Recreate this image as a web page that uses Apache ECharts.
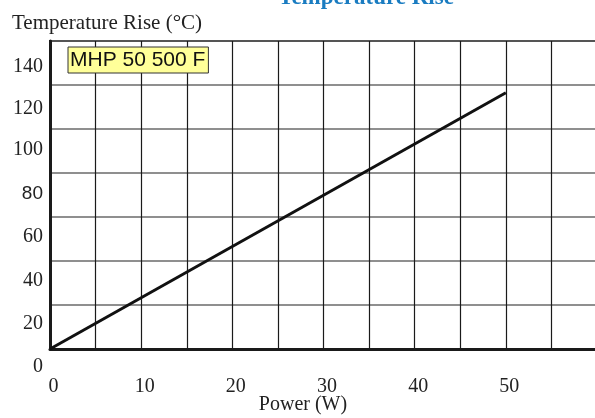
<!DOCTYPE html>
<html>
<head>
<meta charset="utf-8">
<script src="https://cdn.jsdelivr.net/npm/echarts@6/dist/echarts.min.js"></script>
<style>html,body{margin:0;padding:0;background:#fff;}#c{width:595px;height:418px;}</style>
</head>
<body>
<div id="c"></div>
<script>
var chartTitle = 'Temperature Rise';
var yAxisName = 'Temperature Rise (°C)';
var xAxisName = 'Power (W)';
var seriesName = 'MHP 50 500 F';
var powerW = [0, 50];
var tempRise = [0, 116.5];
var yTicks = [0, 20, 40, 60, 80, 100, 120, 140];
var xTicks = [0, 10, 20, 30, 40, 50];

var yOffsets = {0: 17.5, 20: 18.5, 40: 19.5, 60: 19.5, 80: 21, 100: 20.5, 120: 23.5, 140: 25.5};
var rich = {};
yTicks.forEach(function (v) {
  rich['r' + v] = {
    fontFamily: v === 80 ? 'Liberation Sans' : 'Liberation Serif',
    fontSize: v === 80 ? 19 : 20,
    color: '#222',
    padding: [2 * yOffsets[v], 0, 0, 0]
  };
});

var chart = echarts.init(document.getElementById('c'));
chart.setOption({
  animation: false,
  backgroundColor: '#fff',
  title: [{
    text: chartTitle,
    left: 361, top: -18, textAlign: 'center',
    textStyle: {fontFamily: 'Liberation Serif', fontWeight: 'bold', fontSize: 23, color: '#1a7cc1'}
  }, {
    text: yAxisName,
    left: 7, top: 8,
    textStyle: {fontFamily: 'Liberation Serif', fontWeight: 'normal', fontSize: 21, color: '#222'}
  }, {
    text: xAxisName,
    left: 303, top: 395, textAlign: 'center', padding: 0,
    textStyle: {fontFamily: 'Liberation Serif', fontWeight: 'normal', fontSize: 20, color: '#222'}
  }],
  legend: {
    data: [seriesName],
    left: 68, top: 47,
    icon: 'none', itemWidth: 0, itemGap: 0,
    backgroundColor: '#ffff99', borderColor: '#333', borderWidth: 1,
    padding: [3, 3, 2, -3],
    textStyle: {fontFamily: 'Liberation Sans', fontSize: 21, color: '#111'}
  },
  grid: {left: 50, top: 41, bottom: 69, right: -2, containLabel: false, outerBoundsMode: 'none',
    show: true, borderColor: '#1a1a1a', borderWidth: 2, backgroundColor: 'transparent'},
  xAxis: {
    type: 'value', min: 0, max: 60, interval: 5,
    axisLine: {show: true, lineStyle: {color: '#1a1a1a', width: 3}},
    axisTick: {show: false},
    axisLabel: {
      margin: 28, fontFamily: 'Liberation Serif', fontSize: 20, color: '#222', padding: [0, 0, 0, 7],
      formatter: function (v) { return xTicks.indexOf(v) >= 0 ? String(v) : ''; }
    },
    splitLine: {show: true, lineStyle: {color: '#1a1a1a', width: 1.2}}
  },
  yAxis: {
    type: 'value', min: 0, max: 140, interval: 20,
    axisLine: {show: true, lineStyle: {color: '#1a1a1a', width: 3}},
    axisTick: {show: false},
    axisLabel: {
      margin: 7,
      formatter: function (v) { return '{r' + v + '|' + v + '}'; },
      rich: rich
    },
    splitLine: {show: true, lineStyle: {color: '#6a6a6a', width: 1.6}}
  },
  series: [{
    name: seriesName,
    type: 'line',
    data: powerW.map(function (p, i) { return [p, tempRise[i]]; }),
    symbol: 'none',
    lineStyle: {color: '#111', width: 3},
    itemStyle: {color: '#111'}
  }]
});
</script>
</body>
</html>
